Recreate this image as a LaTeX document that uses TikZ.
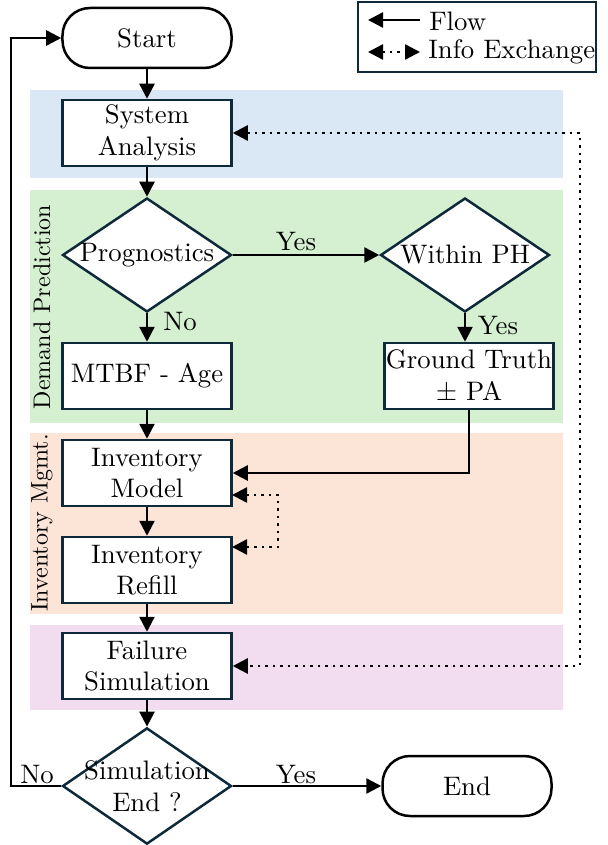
\documentclass[tikz,border=0pt]{standalone}
\usepackage{amsmath}
\usetikzlibrary{calc}
\usetikzlibrary{shapes.geometric}
\usetikzlibrary{arrows.meta}
\definecolor{navy}{HTML}{0E2A3A}
\definecolor{bandblue}{HTML}{DAE8F6}
\definecolor{bandgreen}{HTML}{D5F0D1}
\definecolor{bandorange}{HTML}{FCE4D6}
\definecolor{bandpurple}{HTML}{F2DCF0}

\begin{document}
\begin{tikzpicture}[x=0.4pt,y=-0.4pt,line width=1pt,font=\fontsize{10.7pt}{12.6pt}\selectfont,
  box/.style={draw=navy,fill=white,minimum width=67.6pt,minimum height=26.4pt,align=center,inner sep=0pt},
  dec/.style={draw=navy,fill=white,diamond,minimum width=67.6pt,minimum height=45.6pt,align=center,inner sep=-6pt},
  term/.style={draw=black,fill=white,rounded corners=11pt,minimum width=67.6pt,minimum height=24pt},
  side/.style={rotate=90,font=\fontsize{9.6pt}{11.5pt}\selectfont},
  flow/.style={-{Triangle[length=6pt,width=6pt]}},
  info/.style={dotted,{Triangle[length=6pt,width=6pt]}-{Triangle[length=6pt,width=6pt]}}]
\useasboundingbox (0,0) rectangle (607,845);
\def\bl{30}
\def\br{563}
% bands
\fill[bandblue] (\bl,90) rectangle (\br,178);
\fill[bandgreen] (\bl,190) rectangle (\br,423);
\fill[bandorange] (\bl,433) rectangle (\br,614);
\fill[bandpurple] (\bl,625) rectangle (\br,710);
\node[side] (dp) at (42,307) {Demand Prediction};
\node[side] (mg) at (42,523) {Inventory Mgmt.};

% legend
\node[draw=navy,minimum width=95.2pt,minimum height=28pt] (lg) at (477,37) {};
\coordinate (f1) at (420,20);
\coordinate (f2) at (368,20);
\coordinate (i1) at (368,52);
\coordinate (i2) at (420,52);
\draw[flow] (f1) -- (f2);
\draw[info] (i1) -- (i2);
\node[anchor=west,inner sep=0pt] (lf) at (428,21) {Flow};
\node[anchor=west,inner sep=0pt] (li) at (427,52) {Info Exchange};

% blocks
\node[term] (st) at (147,38) {Start};
\node[box] (sa) at (147,133) {System\\Analysis};
\node[dec] (pg) at (147,255) {Prognostics};
\node[dec] (wp) at (465,255) {Within PH};
\node[box] (mt) at (147,376) {MTBF - Age};
\node[box] (gt) at (469,376) {Ground Truth\\$\pm$ PA};
\node[box] (im) at (147,473) {Inventory\\Model};
\node[box] (ir) at (147,570) {Inventory\\Refill};
\node[box] (fs) at (147,666) {Failure\\Simulation};
\node[dec] (se) at (147,786) {Simulation\\End ?};
\node[term] (en) at (467,786) {End};

% labels
\node (y1) at (296,242) {Yes};
\node (n1) at (180,322) {No};
\node (y2) at (498,326) {Yes};
\node (y3) at (296,775) {Yes};
\node (n2) at (37,775) {No};

% flow
\draw[flow] (st) -- (sa);
\draw[flow] (sa) -- (pg);
\draw[flow] (pg) -- (wp);
\draw[flow] (pg) -- (mt);
\draw[flow] (wp.south) -- (wp.south |- gt.north);
\draw[flow] (mt) -- (im);
\draw[flow] (gt.south) |- (im.east);
\draw[flow] (im) -- (ir);
\draw[flow] (ir) -- (fs);
\draw[flow] (fs) -- (se);
\draw[flow] (se) -- (en);
\draw[flow] (se.west) -- ++(-50,0) |- (st.west);

% info exchange
\coordinate (d1) at (232,495);
\coordinate (d2) at (232,547);
\draw[info] (d1) -- ++(46,0) |- (d2);
\draw[info] (sa.east) -- ++(347,0) |- (fs.east);
\end{tikzpicture}
\end{document}
